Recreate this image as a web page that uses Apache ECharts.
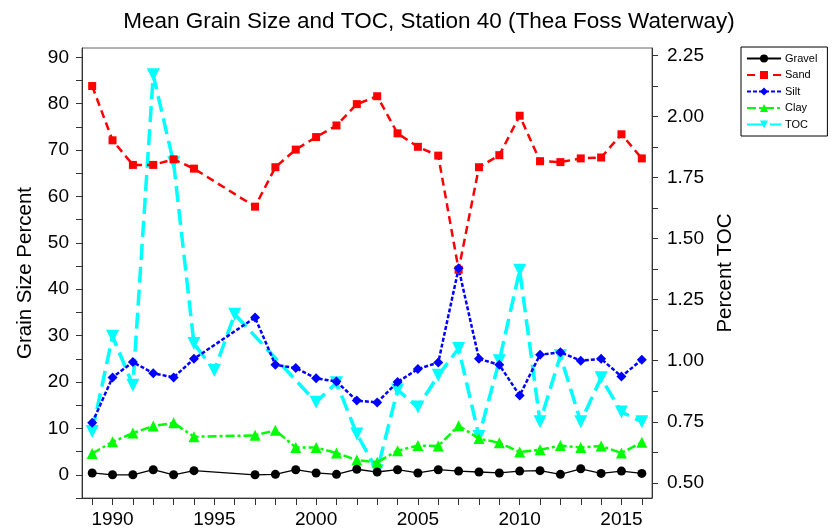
<!DOCTYPE html>
<html>
<head>
<meta charset="utf-8">
<title>Mean Grain Size and TOC, Station 40</title>
<style>
  html, body { margin: 0; padding: 0; background: #fff; }
  #main { width: 835px; height: 531px; }
</style>
</head>
<body>
<div id="main"></div>
<script src="https://cdn.jsdelivr.net/npm/echarts@6/dist/echarts.min.js"></script>
<script>
// grain size sampled years (no samples 1995, 1996)
var grainYears = [1989, 1990, 1991, 1992, 1993, 1994, 1997, 1998, 1999, 2000, 2001, 2002, 2003,
                  2004, 2005, 2006, 2007, 2008, 2009, 2010, 2011, 2012, 2013, 2014, 2015, 2016];
var gravel = [0.4, 0.0, 0.0, 1.1, 0.0, 0.9, 0.0, 0.1, 1.1, 0.4, 0.1, 1.2, 0.6,
              1.1, 0.4, 1.1, 0.8, 0.6, 0.4, 0.8, 0.9, 0.1, 1.3, 0.3, 0.8, 0.3];
var sand = [83.8, 72.1, 66.8, 66.8, 68.0, 66.0, 57.8, 66.3, 70.1, 72.8, 75.3, 79.9, 81.6,
            73.6, 70.7, 68.8, 44.2, 66.3, 68.9, 77.4, 67.6, 67.4, 68.2, 68.4, 73.4, 68.2];
var silt = [11.2, 21.0, 24.3, 21.9, 21.0, 25.0, 33.9, 23.7, 23.0, 20.8, 20.1, 16.0, 15.6,
            20.0, 22.8, 24.2, 44.5, 25.0, 23.7, 17.1, 25.9, 26.4, 24.6, 25.0, 21.2, 24.8];
var clay = [4.6, 7.1, 9.0, 10.5, 11.2, 8.2, 8.5, 9.6, 5.9, 5.9, 4.7, 3.2, 2.7,
            5.2, 6.3, 6.2, 10.6, 7.8, 6.9, 4.9, 5.4, 6.3, 5.9, 6.2, 4.7, 7.0];

// TOC sampled years (no samples 1997-1999)
var tocYears = [1989, 1990, 1991, 1992, 1993, 1994, 1995, 1996, 2000, 2001, 2002, 2003,
                2004, 2005, 2006, 2007, 2008, 2009, 2010, 2011, 2012, 2013, 2014, 2015, 2016];
var toc = [0.71, 1.10, 0.90, 2.17, 1.81, 1.07, 0.96, 1.19, 0.83, 0.91, 0.70, 0.55,
           0.88, 0.81, 0.94, 1.05, 0.69, 1.00, 1.37, 0.75, 1.02, 0.75, 0.93, 0.79, 0.75];

var leftTicks = [-5, 0, 5, 10, 15, 20, 25, 30, 35, 40, 45, 50, 55, 60, 65, 70, 75, 80, 85, 90];
var leftLabels = [0, 10, 20, 30, 40, 50, 60, 70, 80, 90];
var rightTicks = [0.5, 0.625, 0.75, 0.875, 1.0, 1.125, 1.25, 1.375, 1.5, 1.625, 1.75, 1.875, 2.0, 2.125, 2.25];
var rightLabels = [0.5, 0.75, 1.0, 1.25, 1.5, 1.75, 2.0, 2.25];
var xTicks = [];
for (var y = 1989; y <= 2016; y++) xTicks.push(y);
var xLabels = [1990, 1995, 2000, 2005, 2010, 2015];

function pairs(xs, vs) {
  return xs.map(function (x, i) { return [x, vs[i]]; });
}

var font = '"Liberation Sans", Arial, sans-serif';
var axisColor = '#333';

var chart = echarts.init(document.getElementById('main'));

var option = {
  backgroundColor: '#fff',
  animation: false,
  textStyle: { fontFamily: font },
  title: {
    text: 'Mean Grain Size and TOC, Station 40 (Thea Foss Waterway)',
    left: 424,
    textAlign: 'center',
    top: 5,
    textStyle: { fontFamily: font, fontSize: 22.5, fontWeight: 'normal', color: '#000' }
  },
  legend: {
    orient: 'vertical',
    left: 741,
    top: 47,
    padding: [6, 10, 6, 5],
    itemWidth: 34,
    itemHeight: 10,
    itemGap: 5.5,
    borderColor: '#000',
    borderWidth: 1,
    textStyle: { fontFamily: font, fontSize: 11, color: '#000', padding: [0, 0, 0, -1] },
    data: ['Gravel', 'Sand', 'Silt', 'Clay', 'TOC']
  },
  grid: {
    left: 82, right: 183, top: 48, bottom: 33,
    show: true, borderColor: '#666', borderWidth: 1
  },
  xAxis: {
    type: 'value',
    min: 1988.5,
    max: 2016.5,
    axisLine: { onZero: false, lineStyle: { color: axisColor, width: 1 } },
    axisTick: { customValues: xTicks, length: 7, lineStyle: { color: axisColor } },
    axisLabel: {
      customValues: xLabels, color: '#000', fontSize: 19, fontFamily: font, margin: 12,
      formatter: function (v) { return String(v); }
    },
    splitLine: { show: false }
  },
  yAxis: [{
    type: 'value',
    min: -5,
    max: 92,
    name: 'Grain Size Percent',
    nameLocation: 'middle',
    nameRotate: 90,
    nameGap: 46,
    nameTextStyle: { fontFamily: font, fontSize: 20.5, color: '#000' },
    axisLine: { show: true, lineStyle: { color: axisColor } },
    axisTick: { customValues: leftTicks, length: 6, lineStyle: { color: axisColor } },
    axisLabel: { customValues: leftLabels, color: '#000', fontSize: 19, fontFamily: font, margin: 13 },
    splitLine: { show: false }
  }, {
    type: 'value',
    position: 'right',
    min: 0.438,
    max: 2.28,
    name: 'Percent TOC',
    nameLocation: 'middle',
    nameRotate: 90,
    nameGap: 58,
    nameTextStyle: { fontFamily: font, fontSize: 20.5, color: '#000' },
    axisLine: { show: true, lineStyle: { color: axisColor } },
    axisTick: { customValues: rightTicks, length: 6, lineStyle: { color: axisColor } },
    axisLabel: {
      customValues: rightLabels, color: '#000', fontSize: 19, fontFamily: font, margin: 15,
      formatter: function (v) { return v.toFixed(2); }
    },
    splitLine: { show: false }
  }],
  series: [{
    name: 'Gravel',
    type: 'line',
    data: pairs(grainYears, gravel),
    symbol: 'circle',
    symbolSize: 9,
    itemStyle: { color: '#000' },
    lineStyle: { color: '#000', width: 1.3 },
    z: 5
  }, {
    name: 'Sand',
    type: 'line',
    data: pairs(grainYears, sand),
    symbol: 'rect',
    symbolSize: 8,
    itemStyle: { color: '#ff0000' },
    lineStyle: { color: '#ff0000', width: 2.5, type: [8, 5] },
    z: 4
  }, {
    name: 'Silt',
    type: 'line',
    data: pairs(grainYears, silt),
    symbol: 'diamond',
    symbolSize: 10,
    itemStyle: { color: '#0000ff' },
    lineStyle: { color: '#0000ff', width: 2.5, type: [4, 2] },
    z: 4
  }, {
    name: 'Clay',
    type: 'line',
    data: pairs(grainYears, clay),
    symbol: 'triangle',
    symbolSize: 11,
    itemStyle: { color: '#00ff00' },
    lineStyle: { color: '#00ff00', width: 2.5, type: [9, 3, 3, 3] },
    z: 3
  }, {
    name: 'TOC',
    type: 'line',
    yAxisIndex: 1,
    data: pairs(tocYears, toc),
    symbol: 'triangle',
    symbolRotate: 180,
    symbolSize: 13,
    itemStyle: { color: '#00ffff' },
    lineStyle: { color: '#00ffff', width: 3.5, type: [16, 7] },
    z: 2
  }]
};

chart.setOption(option);
</script>
</body>
</html>
